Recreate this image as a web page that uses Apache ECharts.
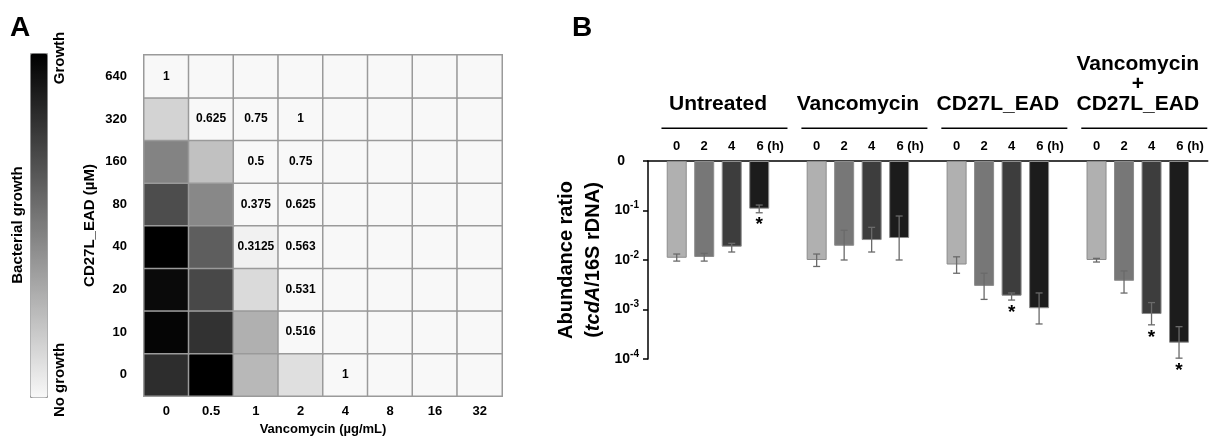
<!DOCTYPE html>
<html>
<head>
<meta charset="utf-8">
<script src="https://cdn.jsdelivr.net/npm/echarts@6/dist/echarts.min.js"></script>
<style>
  html, body { margin: 0; padding: 0; background: #fff; }
  #chart { width: 1210px; height: 441px; }
</style>
</head>
<body>
<div id="chart"></div>
<script>
var FONT = '"Liberation Sans", Arial, sans-serif';

/* ---- panel A : checkerboard ---- */
var vancoDose = ['0', '0.5', '1', '2', '4', '8', '16', '32'];
var eadDose = ['0', '10', '20', '40', '80', '160', '320', '640'];
// bacterial growth, 0 = none, 1 = full (one array per CD27L_EAD dose)
var growthEad0 = [0.82, 1.00, 0.26, 0.10, 0, 0, 0, 0];
var growthEad10 = [0.98, 0.80, 0.29, 0, 0, 0, 0, 0];
var growthEad20 = [0.96, 0.71, 0.12, 0, 0, 0, 0, 0];
var growthEad40 = [1.00, 0.62, 0.03, 0, 0, 0, 0, 0];
var growthEad80 = [0.69, 0.45, 0, 0, 0, 0, 0, 0];
var growthEad160 = [0.47, 0.22, 0, 0, 0, 0, 0, 0];
var growthEad320 = [0.15, 0, 0, 0, 0, 0, 0, 0];
var growthEad640 = [0, 0, 0, 0, 0, 0, 0, 0];
// FIC index written in the cells: [vanco index, EAD index, text]
var ficLabels = [
  [4, 0, '1'], [3, 1, '0.516'], [3, 2, '0.531'],
  [2, 3, '0.3125'], [3, 3, '0.563'], [2, 4, '0.375'], [3, 4, '0.625'],
  [2, 5, '0.5'], [3, 5, '0.75'], [1, 6, '0.625'], [2, 6, '0.75'], [3, 6, '1'],
  [0, 7, '1']
];

/* ---- panel B : tcdA abundance ---- */
var groups = ['Untreated', 'Vancomycin', 'CD27L_EAD', 'Vancomycin\n+\nCD27L_EAD'];
var times = ['0', '2', '4', '6 (h)'];
var ratio0h = [0.0111, 0.0100, 0.0081, 0.0100];
var ratio2h = [0.0115, 0.0194, 0.0030, 0.0038];
var ratio4h = [0.0186, 0.0253, 0.0019, 0.00081];
var ratio6h = [0.109, 0.0278, 0.00106, 0.000214];
var errHi0h = [0.0132, 0.0132, 0.0116, 0.0108];
var errLo0h = [0.0095, 0.0074, 0.0054, 0.0091];
var errHi2h = [0.0136, 0.0398, 0.0054, 0.0060];
var errLo2h = [0.0095, 0.0100, 0.0016, 0.00215];
var errHi4h = [0.0217, 0.0457, 0.00216, 0.00138];
var errLo4h = [0.0145, 0.0145, 0.00155, 0.00049];
var errHi6h = [0.129, 0.0774, 0.00216, 0.00045];
var errLo6h = [0.090, 0.0100, 0.00051, 0.000104];
var signif4h = [0, 0, 1, 1];
var signif6h = [1, 0, 0, 1];

var barColors = ['#b0b0b0', '#777777', '#3d3d3d', '#1c1c1c'];
var ratios = [ratio0h, ratio2h, ratio4h, ratio6h];
var errHi = [errHi0h, errHi2h, errHi4h, errHi6h];
var errLo = [errLo0h, errLo2h, errLo4h, errLo6h];
var signif = [[0, 0, 0, 0], [0, 0, 0, 0], signif4h, signif6h];

var BAR_W = 20, BAR_GAP = 37.5;
var step = BAR_W * (1 + BAR_GAP / 100);

// heatmap data
var growthRows = [growthEad0, growthEad10, growthEad20, growthEad40,
  growthEad80, growthEad160, growthEad320, growthEad640];
var heatData = [];
growthRows.forEach(function(row, y){
  row.forEach(function(v, x){ heatData.push([x, y, v]); });
});
function ficText(x, y){
  for(var i = 0; i < ficLabels.length; i++){
    if(ficLabels[i][0] === x && ficLabels[i][1] === y){ return ficLabels[i][2]; }
  }
  return '';
}

var chart = echarts.init(document.getElementById('chart'), null, {renderer: 'canvas'});

var series = [{
  type: 'heatmap',
  xAxisIndex: 0, yAxisIndex: 0,
  data: heatData,
  itemStyle: { borderColor: '#9a9a9a', borderWidth: 1.5 },
  label: {
    show: true, color: '#000', fontSize: 12, fontWeight: 'bold', fontFamily: FONT,
    formatter: function(p){ return ficText(p.value[0], p.value[1]); }
  },
  emphasis: { disabled: true }
}];

ratios.forEach(function(arr, k){
  series.push({
    type: 'bar',
    xAxisIndex: 1, yAxisIndex: 1,
    data: arr,
    barWidth: BAR_W,
    barGap: BAR_GAP + '%',
    itemStyle: { color: barColors[k], borderColor: '#8c8c8c', borderWidth: 1 },
    label: {
      show: true, position: 'top', distance: 8,
      formatter: times[k], color: '#000', fontSize: 13, fontWeight: 'bold', fontFamily: FONT,
      offset: [k === 3 ? 11 : 0, 0]
    },
    emphasis: { disabled: true },
    z: 2
  });
});

ratios.forEach(function(arr, k){
  series.push({
    type: 'custom',
    xAxisIndex: 1, yAxisIndex: 1,
    data: arr.map(function(v, i){ return [i, errLo[k][i], errHi[k][i], signif[k][i]]; }),
    renderItem: function(params, api){
      var i = api.value(0);
      var lo = api.coord([i, api.value(1)]);
      var hi = api.coord([i, api.value(2)]);
      var x = lo[0] + (k - 1.5) * step;
      var cap = 3.5;
      var st = { stroke: '#6a6a6a', lineWidth: 1.3 };
      var kids = [
        { type: 'line', shape: { x1: x, y1: hi[1], x2: x, y2: lo[1] }, style: st },
        { type: 'line', shape: { x1: x - cap, y1: hi[1], x2: x + cap, y2: hi[1] }, style: st },
        { type: 'line', shape: { x1: x - cap, y1: lo[1], x2: x + cap, y2: lo[1] }, style: st }
      ];
      if(api.value(3)){
        kids.push({
          type: 'text',
          style: { text: '*', x: x, y: lo[1] + 3, align: 'center', verticalAlign: 'top',
            fill: '#000', font: 'bold 19px ' + FONT }
        });
      }
      return { type: 'group', children: kids };
    },
    z: 3
  });
});

var option = {
  animation: false,
  textStyle: { fontFamily: FONT },
  graphic: [
    { type: 'text', left: 10, top: 14, style: { text: 'A', font: 'bold 28px ' + FONT, fill: '#000' } },
    { type: 'text', left: 572, top: 14, style: { text: 'B', font: 'bold 28px ' + FONT, fill: '#000' } },
    { type: 'text', x: 18, y: 225, rotation: Math.PI / 2,
      style: { text: 'Bacterial growth', font: 'bold 15px ' + FONT, fill: '#000', align: 'center', verticalAlign: 'middle' } },
    { type: 'text', x: 60, y: 58, rotation: Math.PI / 2,
      style: { text: 'Growth', font: 'bold 15px ' + FONT, fill: '#000', align: 'center', verticalAlign: 'middle' } },
    { type: 'text', x: 60, y: 380, rotation: Math.PI / 2,
      style: { text: 'No growth', font: 'bold 15px ' + FONT, fill: '#000', align: 'center', verticalAlign: 'middle' } }
  ],
  visualMap: {
    type: 'continuous',
    seriesIndex: 0,
    min: 0, max: 1,
    calculable: false,
    hoverLink: false,
    orient: 'vertical',
    left: 30, top: 53,
    itemWidth: 17, itemHeight: 344,
    padding: 0,
    borderColor: '#9a9a9a', borderWidth: 1,
    inRange: { color: ['#f8f8f8', '#000000'] }
  },
  grid: [
    { left: 144, top: 55, width: 358, height: 341 },
    { left: 648, top: 161, width: 562, height: 198 }
  ],
  xAxis: [{
    type: 'category', gridIndex: 0, data: vancoDose,
    name: 'Vancomycin (\u00b5g/mL)', nameLocation: 'middle', nameGap: 27,
    nameTextStyle: { fontSize: 13, fontWeight: 'bold', color: '#000' },
    axisLine: { show: false }, axisTick: { show: false },
    axisLabel: { fontSize: 13, fontWeight: 'bold', color: '#000', margin: 9 }
  }, {
    type: 'category', gridIndex: 1, data: groups, position: 'top',
    axisLine: { lineStyle: { color: '#000', width: 1.5 } },
    axisTick: { length: 5, lineStyle: { color: '#000', width: 1.5 } },
    axisLabel: {
      margin: 32, interval: 0,
      formatter: function(v){
        var lines = v.split('\n').map(function(s){ return '{g|' + s + '}'; });
        return lines.join('\n') + '\n{sp|}\n{pad|}{ln|}';
      },
      rich: {
        g: { fontSize: 21, fontWeight: 'bold', color: '#000', lineHeight: 20 },
        sp: { lineHeight: 13, height: 13 },
        pad: { width: 13, height: 1.5 },
        ln: { width: 126, height: 1.5, backgroundColor: '#000' }
      }
    }
  }],
  yAxis: [{
    type: 'category', gridIndex: 0, data: eadDose,
    name: 'CD27L_EAD (\u00b5M)', nameLocation: 'middle', nameGap: 47,
    nameTextStyle: { fontSize: 15, fontWeight: 'bold', color: '#000' },
    axisLine: { show: false }, axisTick: { show: false },
    axisLabel: { fontSize: 13, fontWeight: 'bold', color: '#000', margin: 17 }
  }, {
    type: 'log', gridIndex: 1, logBase: 10, min: 0.0001, max: 1,
    name: '{a|Abundance ratio}\n{a|(}{i|tcdA}{a|/16S rDNA)}',
    nameLocation: 'middle', nameGap: 41,
    nameTextStyle: {
      rich: {
        a: { fontSize: 20, fontWeight: 'bold', color: '#000', lineHeight: 27 },
        i: { fontSize: 20, fontWeight: 'bold', fontStyle: 'italic', color: '#000', lineHeight: 27 }
      }
    },
    splitLine: { show: false },
    axisLine: { show: true, lineStyle: { color: '#000', width: 1.5 } },
    axisTick: { show: true, length: 5, lineStyle: { color: '#000', width: 1.5 } },
    axisLabel: {
      margin: 9, align: 'right',
      formatter: function(v){
        if(v >= 1){ return '{b|0}{gap|}'; }
        return '{b|10}{s|' + Math.round(Math.log10(v)) + '}';
      },
      rich: {
        b: { fontSize: 14, fontWeight: 'bold', color: '#000', lineHeight: 20 },
        s: { fontSize: 10, fontWeight: 'bold', color: '#000', lineHeight: 8, verticalAlign: 'top' },
        gap: { width: 14 }
      }
    }
  }],
  series: series
};

chart.setOption(option);
</script>
</body>
</html>
